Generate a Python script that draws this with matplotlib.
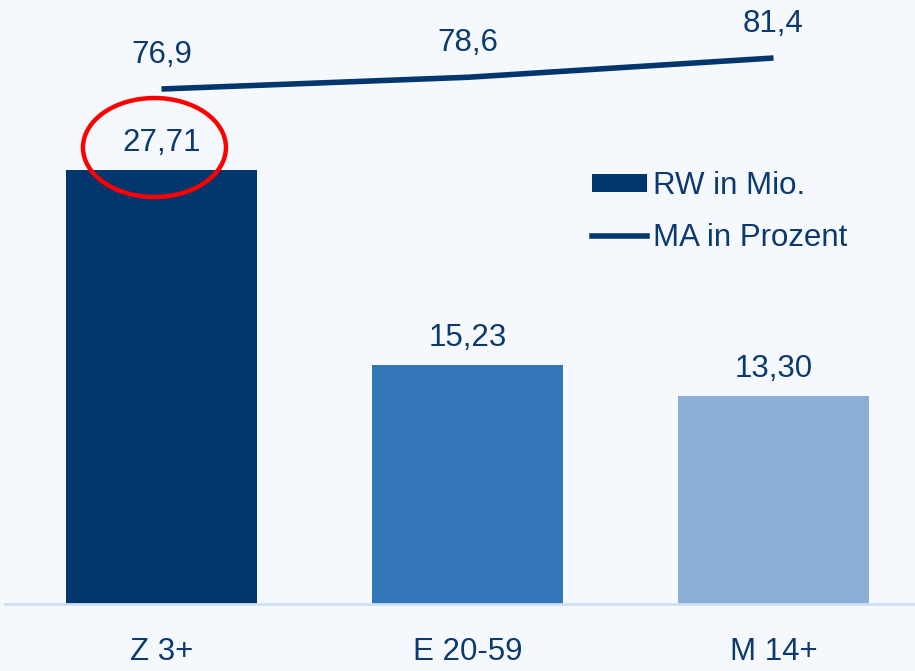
import matplotlib
matplotlib.use("Agg")
import matplotlib.pyplot as plt
from matplotlib.patches import Ellipse, Patch
from matplotlib.lines import Line2D

categories = ["Z 3+", "E 20-59", "M 14+"]
rw_values = [27.71, 15.23, 13.30]
rw_labels = ["27,71", "15,23", "13,30"]
ma_values = [76.9, 78.6, 81.4]
ma_labels = ["76,9", "78,6", "81,4"]

bar_colors = ["#03366C", "#3276B8", "#8CAFD8"]
line_color = "#03366C"
text_color = "#0D3A6E"
bg = "#F5F9FD"
FS = 22.5

plt.rcParams['font.family'] = ['Liberation Sans', 'DejaVu Sans']

W, H = 915, 671
fig = plt.figure(figsize=(W / 100, H / 100), dpi=100, facecolor=bg)
ax_left, ax_right = 5, 915
ax_top, ax_bottom = 0, 604
ax = fig.add_axes([ax_left / W, (H - ax_bottom) / H, (ax_right - ax_left) / W, (ax_bottom - ax_top) / H])
ax.set_facecolor(bg)

x = list(range(len(categories)))
px_per_unit_x = 306
ax.set_xlim((ax_left - 161.5) / px_per_unit_x, (ax_right - 161.5) / px_per_unit_x)
ax.set_ylim(0, 604 / 15.66)

bars = ax.bar(x, rw_values, width=191 / px_per_unit_x, color=bar_colors, zorder=2)
for xi, v, lab in zip(x, rw_values, rw_labels):
    ax.annotate(lab, (xi, v), xytext=(0, 19.5), textcoords="offset points",
                ha="center", va="center", fontsize=FS, color=text_color)

for s in ["top", "right", "left"]:
    ax.spines[s].set_visible(False)
ax.spines["bottom"].set_color("#CCE0F5")
ax.spines["bottom"].set_linewidth(2)
ax.set_yticks([])
ax.set_xticks(x)
ax.set_xticklabels(categories, fontsize=FS, color=text_color)
ax.tick_params(axis="x", length=0, pad=24)

ax2 = ax.twinx()
lo = 76.9 - 515 / 6.89
ax2.set_ylim(lo, lo + 604 / 6.89)
ax2.plot(x, ma_values, color=line_color, linewidth=4, solid_capstyle="butt", zorder=3)
for xi, v, lab in zip(x, ma_values, ma_labels):
    ax2.annotate(lab, (xi, v), xytext=(0, 24.5), textcoords="offset points",
                 ha="center", va="center", fontsize=FS, color=text_color)
ax2.set_yticks([])
for s in ax2.spines.values():
    s.set_visible(False)

# red highlight ellipse around the first bar label
ell = Ellipse((-0.023, 29.15), width=143 / px_per_unit_x, height=99 / 15.66,
              fill=False, edgecolor="#FF0000", linewidth=3.2, zorder=5)
ax.add_patch(ell)

handles = [Patch(facecolor=bar_colors[0], edgecolor="none"),
           Line2D([0], [0], color=line_color, linewidth=4)]
leg = ax2.legend(handles, ["RW in Mio.", "MA in Prozent"], loc="upper left",
                 bbox_to_anchor=(592 / W, 1 - 171 / H), bbox_transform=fig.transFigure,
                 frameon=False, fontsize=FS, handlelength=1.75, handleheight=0.5,
                 handletextpad=0.2, labelspacing=0.7, borderpad=0, borderaxespad=0)
for t in leg.get_texts():
    t.set_color(text_color)

fig.savefig("out.png", dpi=100, facecolor=bg)
